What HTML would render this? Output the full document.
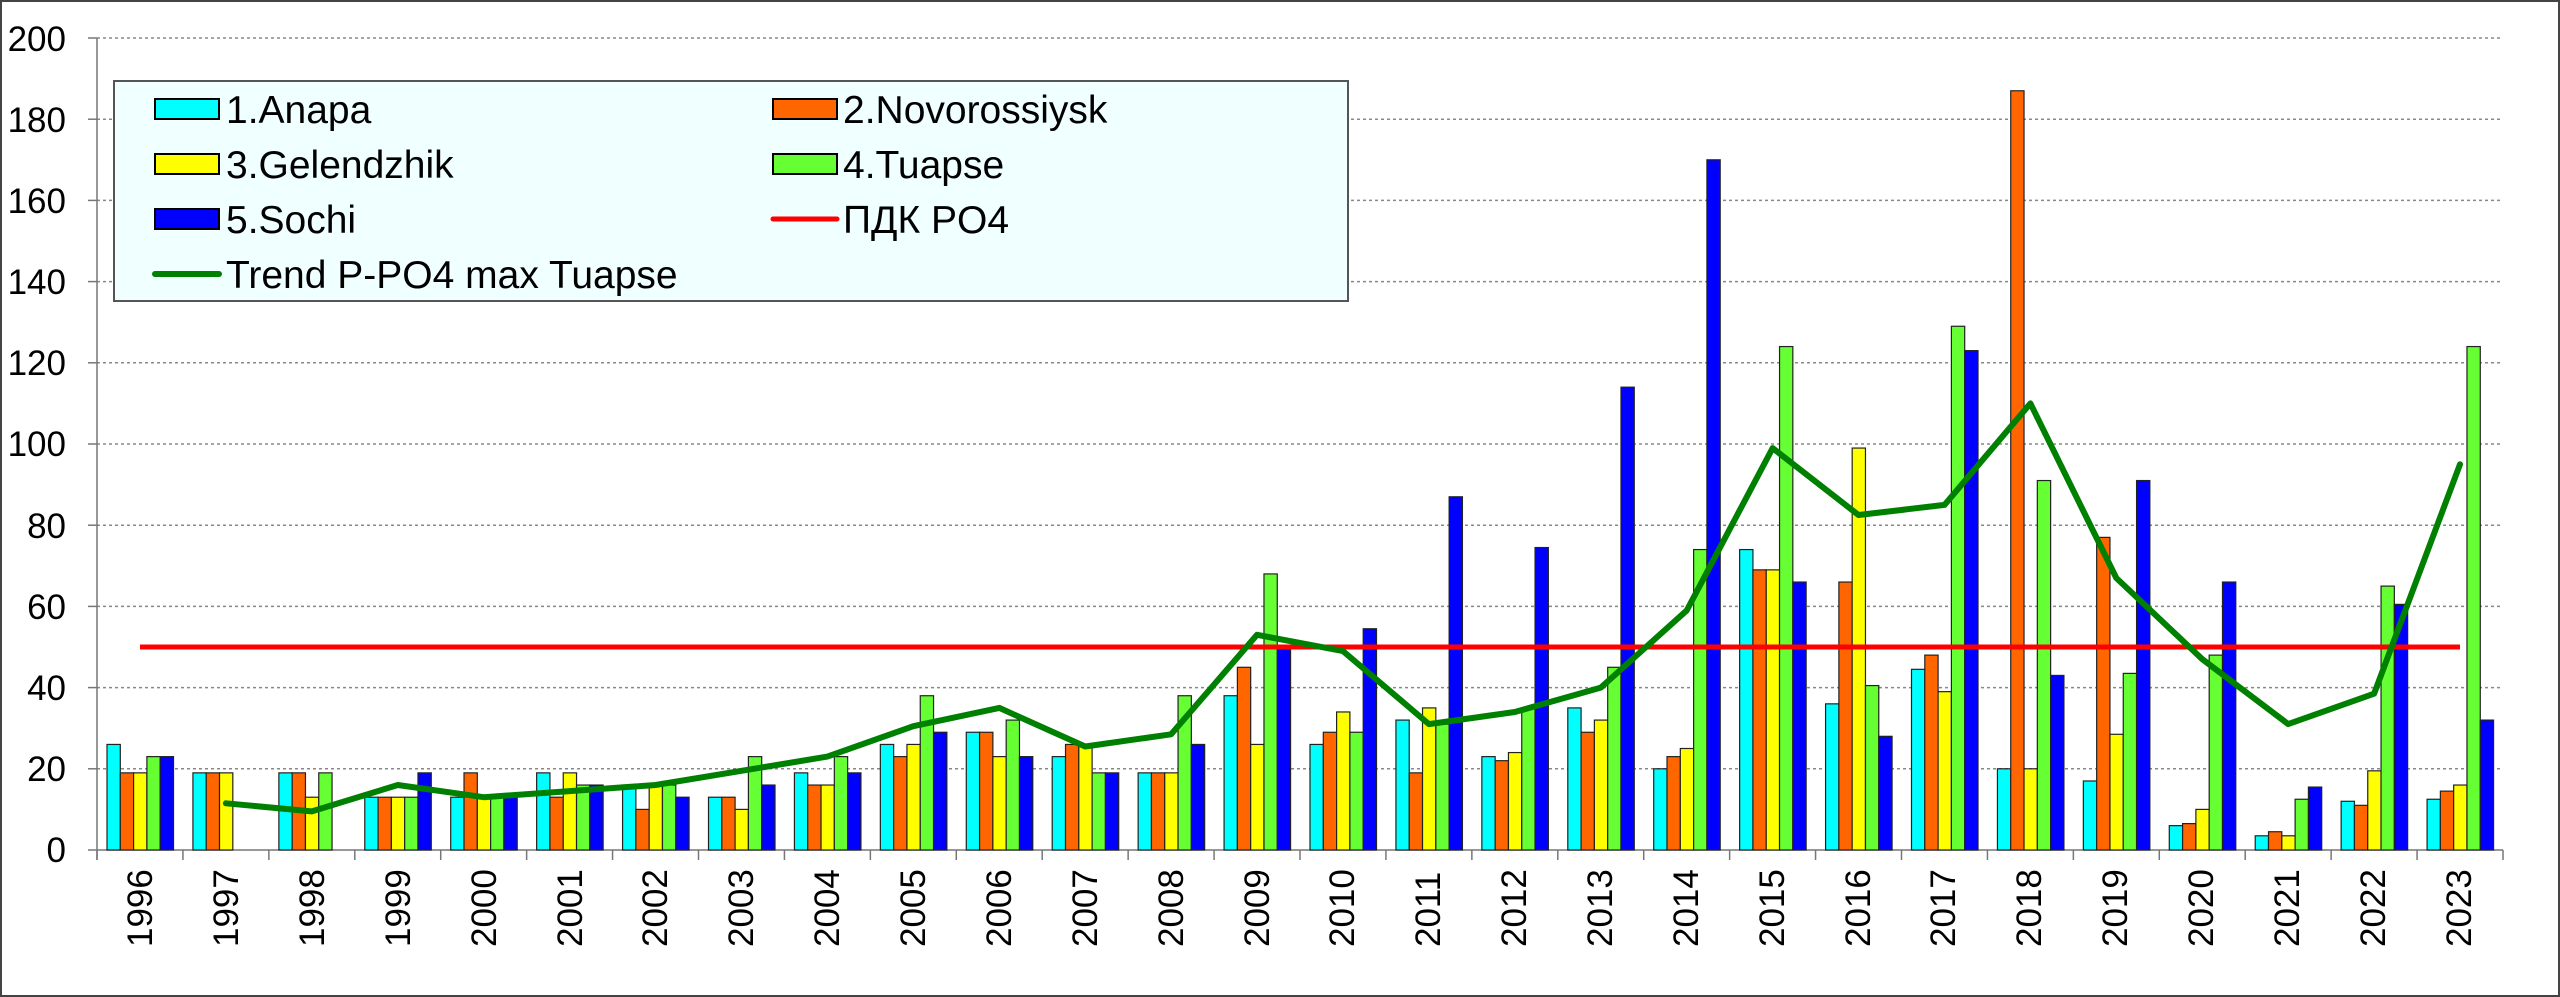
<!DOCTYPE html>
<html><head><meta charset="utf-8"><style>
html,body{margin:0;padding:0;background:#fff;}
svg{display:block;font-family:"Liberation Sans",Arial,sans-serif;}
</style></head><body>
<svg id="c" width="2560" height="997" xmlns="http://www.w3.org/2000/svg">
<rect x="1" y="1" width="2558" height="995" fill="#fff" stroke="#444" stroke-width="2"/>
<g id="grid"></g>
<g id="bars"></g>
<g font-size="35" text-anchor="end" fill="#000">
<text x="66" y="862">0</text><text x="66" y="781">20</text><text x="66" y="700">40</text>
<text x="66" y="619">60</text><text x="66" y="538">80</text><text x="66" y="456">100</text>
<text x="66" y="375">120</text><text x="66" y="294">140</text><text x="66" y="213">160</text>
<text x="66" y="132">180</text><text x="66" y="51">200</text>
</g>
<g font-size="35" fill="#000" id="xl">
<text transform="translate(152,947) rotate(-90)">1996</text>
<text transform="translate(238,947) rotate(-90)">1997</text>
<text transform="translate(324,947) rotate(-90)">1998</text>
<text transform="translate(410,947) rotate(-90)">1999</text>
<text transform="translate(496,947) rotate(-90)">2000</text>
<text transform="translate(582,947) rotate(-90)">2001</text>
<text transform="translate(667,947) rotate(-90)">2002</text>
<text transform="translate(753,947) rotate(-90)">2003</text>
<text transform="translate(839,947) rotate(-90)">2004</text>
<text transform="translate(925,947) rotate(-90)">2005</text>
<text transform="translate(1011,947) rotate(-90)">2006</text>
<text transform="translate(1097,947) rotate(-90)">2007</text>
<text transform="translate(1183,947) rotate(-90)">2008</text>
<text transform="translate(1269,947) rotate(-90)">2009</text>
<text transform="translate(1354,947) rotate(-90)">2010</text>
<text transform="translate(1440,947) rotate(-90)">2011</text>
<text transform="translate(1526,947) rotate(-90)">2012</text>
<text transform="translate(1612,947) rotate(-90)">2013</text>
<text transform="translate(1698,947) rotate(-90)">2014</text>
<text transform="translate(1784,947) rotate(-90)">2015</text>
<text transform="translate(1870,947) rotate(-90)">2016</text>
<text transform="translate(1955,947) rotate(-90)">2017</text>
<text transform="translate(2041,947) rotate(-90)">2018</text>
<text transform="translate(2127,947) rotate(-90)">2019</text>
<text transform="translate(2213,947) rotate(-90)">2020</text>
<text transform="translate(2299,947) rotate(-90)">2021</text>
<text transform="translate(2385,947) rotate(-90)">2022</text>
<text transform="translate(2471,947) rotate(-90)">2023</text>
</g>
<g id="legend">
<rect x="114" y="81" width="1234" height="220" fill="#f0ffff" stroke="#555" stroke-width="2"/>
<rect x="155" y="99" width="64" height="20" fill="#00ffff" stroke="#000" stroke-width="2"/>
<rect x="155" y="154" width="64" height="20" fill="#ffff00" stroke="#000" stroke-width="2"/>
<rect x="155" y="209" width="64" height="20" fill="#0000ff" stroke="#000" stroke-width="2"/>
<line x1="155" y1="274" x2="219" y2="274" stroke="#008000" stroke-width="6" stroke-linecap="round"/>
<rect x="773" y="99" width="64" height="20" fill="#ff6600" stroke="#000" stroke-width="2"/>
<rect x="773" y="154" width="64" height="20" fill="#66ff33" stroke="#000" stroke-width="2"/>
<line x1="773" y1="219" x2="837" y2="219" stroke="#ff0000" stroke-width="5" stroke-linecap="round"/>
<g font-size="39" fill="#000">
<text x="226" y="123">1.Anapa</text>
<text x="226" y="178">3.Gelendzhik</text>
<text x="226" y="233">5.Sochi</text>
<text x="226" y="288">Trend P-PO4 max Tuapse</text>
<text x="843" y="123">2.Novorossiysk</text>
<text x="843" y="178">4.Tuapse</text>
<text x="843" y="233">ПДК PO4</text>
</g>
</g>
</svg>
<script>
var NS="http://www.w3.org/2000/svg";
function el(p,t,a){var e=document.createElementNS(NS,t);for(var k in a)e.setAttribute(k,a[k]);p.appendChild(e);return e;}
var X0=97,X1=2503,Y0=850,S=4.06,W=(X1-X0)/28;
var g=document.getElementById('grid');
for(var v=20;v<=200;v+=20){var y=Y0-v*S;el(g,'line',{x1:X0,y1:y,x2:X1,y2:y,stroke:'#888','stroke-width':1.5,'stroke-dasharray':'3,3'});}
for(var v=0;v<=200;v+=20){var y=Y0-v*S;el(g,'line',{x1:88,y1:y,x2:X0,y2:y,stroke:'#777','stroke-width':1.5});}
el(g,'line',{x1:X0,y1:38,x2:X0,y2:860,stroke:'#777','stroke-width':1.5});
el(g,'line',{x1:X0,y1:Y0,x2:X1,y2:Y0,stroke:'#777','stroke-width':1.5});
for(var i=0;i<=28;i++){var x=X0+i*W;el(g,'line',{x1:x,y1:Y0,x2:x,y2:860,stroke:'#777','stroke-width':1.5});}
var D=[[26,19,19,23,23],[19,19,19,0,0],[19,19,13,19,0],[13,13,13,13,19],[13,19,13,13,13],[19,13,19,16,16],[16,10,16,16,13],[13,13,10,23,16],[19,16,16,23,19],[26,23,26,38,29],[29,29,23,32,23],[23,26,26,19,19],[19,19,19,38,26],[38,45,26,68,50],[26,29,34,29,54.5],[32,19,35,31,87],[23,22,24,35,74.5],[35,29,32,45,114],[20,23,25,74,170],[74,69,69,124,66],[36,66,99,40.5,28],[44.5,48,39,129,123],[20,187,20,91,43],[17,77,28.5,43.5,91],[6,6.5,10,48,66],[3.5,4.5,3.5,12.5,15.5],[12,11,19.5,65,60.5],[12.5,14.5,16,124,32]];
var C=['#00ffff','#ff6600','#ffff00','#66ff33','#0000ff'];
var b=document.getElementById('bars'),bw=13.3;
D.forEach(function(r,i){r.forEach(function(v,j){if(!v)return;var x=X0+i*W+10+j*bw,h=v*S;el(b,'rect',{x:x,y:Y0-h,width:bw,height:h,fill:C[j],stroke:'#222','stroke-width':1.2});});});
el(b,'line',{x1:X0+0.5*W,y1:Y0-50*S,x2:X0+27.5*W,y2:Y0-50*S,stroke:'#ff0000','stroke-width':5});
var T=[11.5,9.5,16,13,14.5,16,19.5,23,30.5,35,25.5,28.5,53,49,31,34,40,59,99,82.5,85,110,67,47,31,38.5,95];
var pts=T.map(function(v,i){return (X0+(i+1.5)*W).toFixed(1)+','+(Y0-v*S).toFixed(1);}).join(' ');
el(b,'polyline',{points:pts,fill:'none',stroke:'#008000','stroke-width':6,'stroke-linejoin':'round','stroke-linecap':'round'});
</script>
</body></html>
